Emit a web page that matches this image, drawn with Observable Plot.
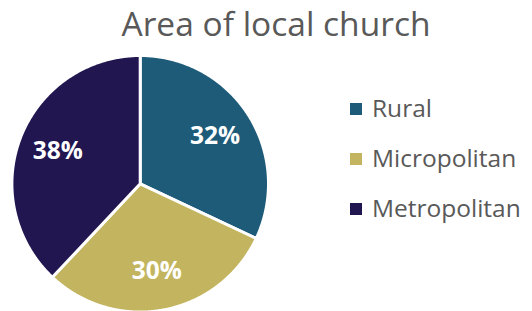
<!DOCTYPE html>
<html>
<head>
<meta charset="utf-8">
<script src="https://cdn.jsdelivr.net/npm/d3@7"></script>
<script src="https://cdn.jsdelivr.net/npm/@observablehq/plot@0.6"></script>
<style>
  html, body { margin: 0; padding: 0; background: #fff; }
  #wrap { position: relative; width: 532px; height: 311px; font-family: "Open Sans", sans-serif; color: #595959; overflow: hidden; }
  #title { position: absolute; left: 20px; width: 512px; top: 0px; text-align: center; font-size: 33.5px; line-height: normal; white-space: nowrap; }
  #legend { position: absolute; left: 350px; top: 95px; }
  .item { position: absolute; left: 0; white-space: nowrap; font-size: 24.5px; line-height: 25px; }
  .sw { position: absolute; left: 0; top: 8px; width: 12px; height: 12px; }
  .lt { position: absolute; left: 22px; top: 0; }
  #chart { position: absolute; left: 0; top: 0; }
</style>
</head>
<body>
<div id="wrap">
  <div id="chart"></div>
  <div id="title">Area of local church</div>
  <div id="legend"></div>
</div>
<script>
const categories = ["Rural", "Micropolitan", "Metropolitan"];
const shares = [32, 30, 38];
const labels = ["32%", "30%", "38%"];
const colors = ["#1D5B79", "#C3B55F", "#211650"];

const total = d3.sum(shares);
let acc = 0;
const slices = categories.map((key, i) => {
  const a0 = acc / total * 2 * Math.PI;
  acc += shares[i];
  const a1 = acc / total * 2 * Math.PI;
  return {key, value: shares[i], label: labels[i], a0, a1, mid: (a0 + a1) / 2};
});

const points = [];
for (const s of slices) {
  points.push({key: s.key, x: 0, y: 0});
  const n = Math.max(2, Math.ceil((s.a1 - s.a0) / (Math.PI / 360)));
  for (let k = 0; k <= n; k++) {
    const a = s.a0 + (s.a1 - s.a0) * k / n;
    points.push({key: s.key, x: Math.sin(a), y: Math.cos(a)});
  }
}

const cx = 139.7, cy = 183.3, R = 128.3;
const chart = Plot.plot({
  width: 532,
  height: 311,
  margin: 0,
  style: {fontFamily: "'Open Sans', sans-serif", background: "transparent"},
  x: {axis: null, domain: [-1, 1], range: [cx - R, cx + R]},
  y: {axis: null, domain: [-1, 1], range: [cy + R, cy - R]},
  color: {domain: categories, range: colors},
  marks: [
    Plot.line(points, {x: "x", y: "y", z: "key", fill: "key", stroke: "white", strokeWidth: 3, strokeLinejoin: "round", curve: "linear-closed"}),
    Plot.text(slices, {
      x: d => 0.69 * Math.sin(d.mid),
      y: d => 0.69 * Math.cos(d.mid),
      text: "label",
      fill: "white",
      fontWeight: "bold",
      fontSize: 24.5
    })
  ]
});
document.getElementById("chart").appendChild(chart);

const legend = document.getElementById("legend");
categories.forEach((c, i) => {
  const item = document.createElement("div");
  item.className = "item";
  item.style.top = (i * 50) + "px";
  const sw = document.createElement("div");
  sw.className = "sw";
  sw.style.background = colors[i];
  const t = document.createElement("div");
  t.className = "lt";
  t.textContent = c;
  item.appendChild(sw);
  item.appendChild(t);
  legend.appendChild(item);
});
</script>
</body>
</html>
